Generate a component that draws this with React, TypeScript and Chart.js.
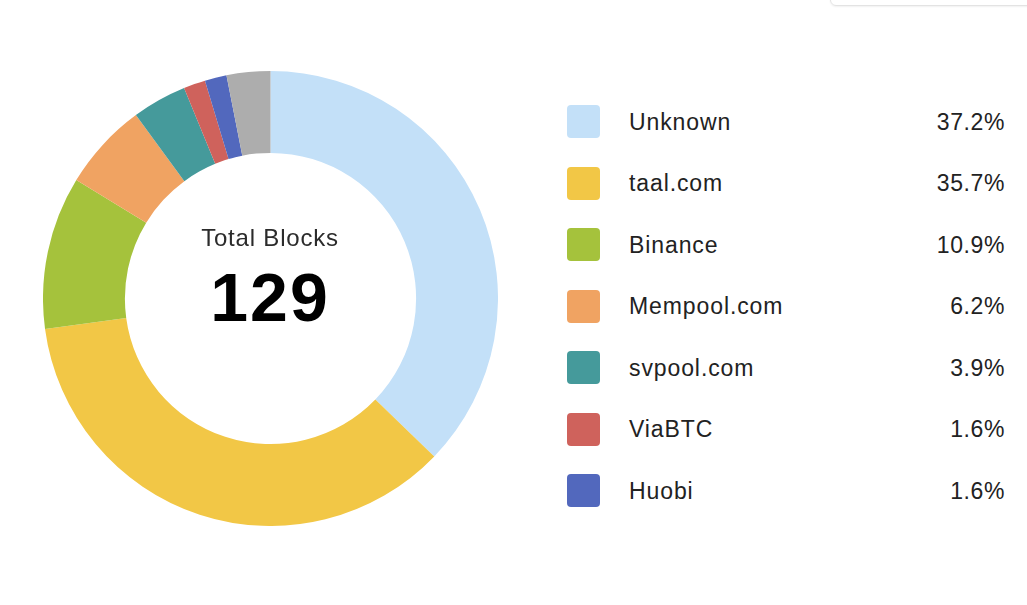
import React, { useEffect, useRef } from "react";
import { Chart, registerables } from "chart.js";

Chart.register(...registerables);

const labels = ["Unknown", "taal.com", "Binance", "Mempool.com", "svpool.com", "ViaBTC", "Huobi", "Other"];
const blocks = [48, 46, 14, 8, 5, 2, 2, 4];
const colors = ["#c3e0f8", "#f2c746", "#a5c23c", "#f0a362", "#459a9b", "#cf625c", "#5268bd", "#adadad"];
const legendLabels = ["Unknown", "taal.com", "Binance", "Mempool.com", "svpool.com", "ViaBTC", "Huobi"];
const legendPercents = ["37.2%", "35.7%", "10.9%", "6.2%", "3.9%", "1.6%", "1.6%"];
const centerTitle = "Total Blocks";
const centerValue = "129";

const FONT = '"Liberation Sans", Helvetica, Arial, sans-serif';

export default function App() {
  const canvasRef = useRef<HTMLCanvasElement | null>(null);

  useEffect(() => {
    if (!canvasRef.current) return;
    const chart = new Chart(canvasRef.current, {
      type: "doughnut",
      data: {
        labels,
        datasets: [
          {
            data: blocks,
            backgroundColor: colors,
            borderWidth: 0,
          },
        ],
      },
      options: {
        animation: false,
        responsive: true,
        maintainAspectRatio: false,
        cutout: "64%",
        layout: { padding: 0 },
        plugins: {
          legend: { display: false },
          tooltip: { enabled: false },
        },
      },
    });
    return () => chart.destroy();
  }, []);

  return (
    <div
      style={{
        position: "fixed",
        left: 0,
        top: 0,
        width: 1027,
        height: 605,
        background: "#fff",
        overflow: "hidden",
        fontFamily: FONT,
      }}
    >
      <div
        style={{
          position: "absolute",
          left: 830,
          top: -40,
          width: 240,
          height: 44,
          border: "1px solid #e3e3e3",
          borderRadius: 6,
          boxShadow: "0 1px 2px rgba(0,0,0,0.06)",
        }}
      />
      <div style={{ position: "absolute", left: 43, top: 71, width: 455, height: 455 }}>
        <canvas ref={canvasRef} />
      </div>
      <div
        style={{
          position: "absolute",
          left: 120,
          width: 300,
          top: 224,
          textAlign: "center",
          fontSize: 24,
          letterSpacing: 0.8,
          color: "#2b2b2b",
          lineHeight: "28px",
        }}
      >
        {centerTitle}
      </div>
      <div
        style={{
          position: "absolute",
          left: 120,
          width: 300,
          top: 258,
          textAlign: "center",
          fontSize: 68,
          fontWeight: 700,
          letterSpacing: 2,
          color: "#000",
          lineHeight: "78px",
        }}
      >
        {centerValue}
      </div>
      {legendLabels.map((lab, i) => {
        const cy = 121.5 + i * 61.5;
        return (
          <React.Fragment key={lab}>
            <div
              style={{
                position: "absolute",
                left: 567,
                top: cy - 16.5,
                width: 33,
                height: 33,
                borderRadius: 4,
                background: colors[i],
              }}
            />
            <div
              style={{
                position: "absolute",
                left: 629,
                top: cy - 14,
                fontSize: 23,
                letterSpacing: 0.9,
                lineHeight: "28px",
                color: "#222",
              }}
            >
              {lab}
            </div>
            <div
              style={{
                position: "absolute",
                right: 1027 - 1005,
                top: cy - 14,
                fontSize: 23,
                letterSpacing: 0.6,
                lineHeight: "28px",
                color: "#222",
                textAlign: "right",
              }}
            >
              {legendPercents[i]}
            </div>
          </React.Fragment>
        );
      })}
    </div>
  );
}
